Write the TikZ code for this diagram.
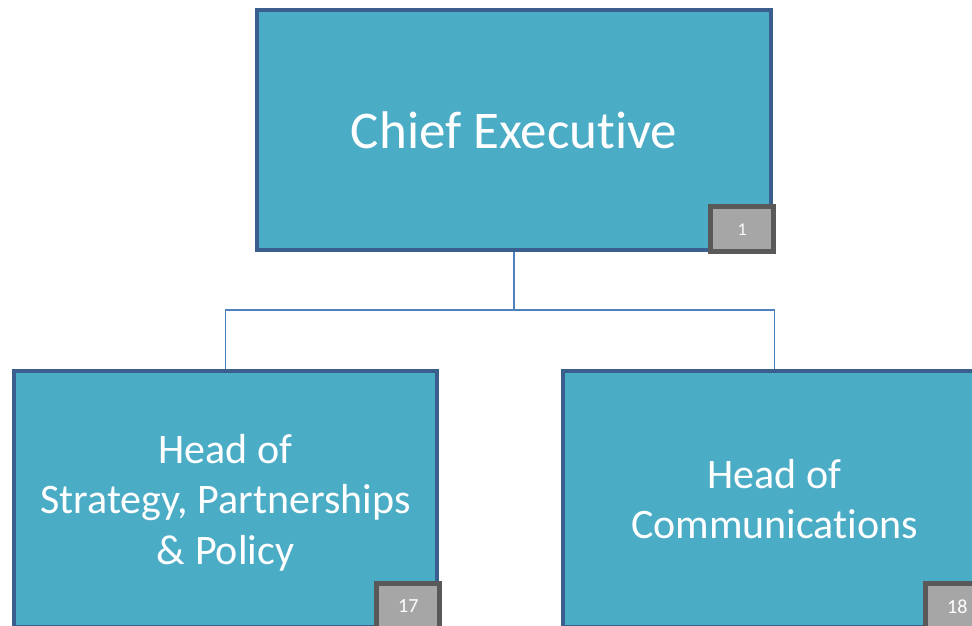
\documentclass[tikz,border=0pt]{standalone}
\usepackage{fontspec}
\setmainfont[RawFeature={-liga;-clig;-calt;-dlig}]{Carlito}
\definecolor{boxfill}{HTML}{4BACC6}
\definecolor{boxline}{HTML}{3A5F8E}
\definecolor{badgefill}{HTML}{A6A6A6}
\definecolor{badgeline}{HTML}{595959}
\definecolor{conn}{HTML}{4F81BD}
\tikzset{
  orgbox/.style={draw=boxline, fill=boxfill, line width=4.5pt, rectangle, inner sep=0pt,
    text=white, align=center},
  badge/.style={draw=badgeline, fill=badgefill, line width=5pt, rectangle, inner sep=0pt,
    minimum width=63pt, minimum height=45pt, text=white},
  connector/.style={draw=conn, line width=1.8pt}
}
\begin{document}
\begin{tikzpicture}[x=1pt,y=-1pt]
\useasboundingbox[fill=white] (0,0) rectangle (972,626);
\node[orgbox, minimum width=514pt, minimum height=240pt,
  font=\fontsize{53}{60}\selectfont] (ceo) at (514,130) {Chief Executive};
\node[orgbox, minimum width=423pt, minimum height=256pt, text depth=0pt,
  font=\fontsize{42}{50.5}\selectfont] (sp) at (225.5,499) {Head of\\Strategy, Partnerships\\\& Policy};
\node[orgbox, minimum width=423pt, minimum height=256pt,
  font=\fontsize{42}{50.5}\selectfont] (com) at (774.5,499) {Head of\\Communications};
\node[badge, font=\fontsize{18}{20}\selectfont] (b1) at ([xshift=-31pt,yshift=23pt]ceo.south east) {1};
\node[badge, font=\fontsize{20}{22}\selectfont] (b17) at ([xshift=-31pt,yshift=23pt]sp.south east) {17};
\node[badge, font=\fontsize{20}{22}\selectfont] (b18) at ([xshift=-31pt,yshift=23pt]com.south east) {18};
\coordinate (mid) at (514,310);
\draw[connector] (ceo.south) -- (mid) -| (sp.north);
\draw[connector] (mid) -| (com.north);
\end{tikzpicture}
\end{document}
